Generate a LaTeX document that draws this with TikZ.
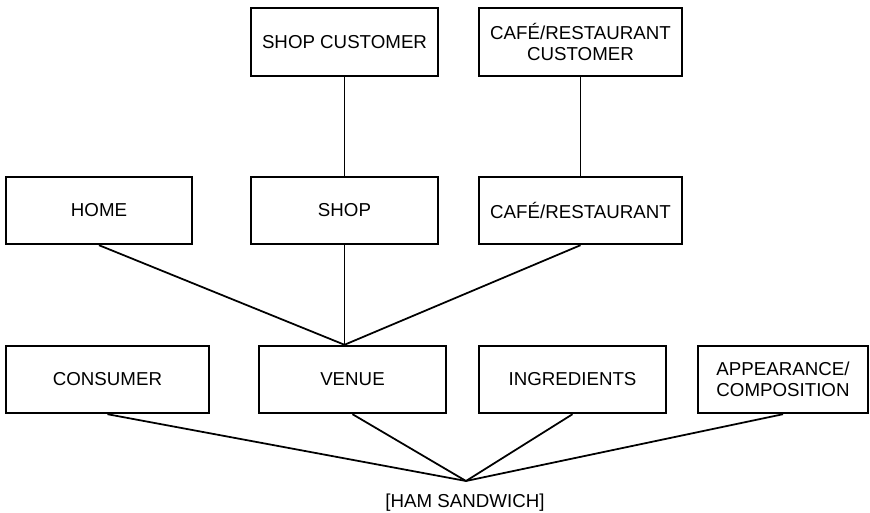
\documentclass[tikz,border=0pt]{standalone}
\usepackage{fontspec}
\setmainfont{Liberation Sans}

\begin{document}
\begin{tikzpicture}[
    box/.style={draw, line width=1.1pt, minimum height=1.35cm, align=center,
                inner sep=2pt, font=\fontsize{10.65}{12.3}\selectfont},
    link/.style={line width=1pt}
]
    \useasboundingbox (0,0) rectangle (17.4,10.26);

    % customers
    \node[box, minimum width=3.74cm] (shopcust) at (6.89,9.42) {SHOP CUSTOMER};
    \node[box, minimum width=4.06cm] (cafecust) at (11.61,9.42) {CAFÉ/RESTAURANT\\CUSTOMER};

    % venues
    \node[box, minimum width=3.72cm] (home) at (1.98,6.05) {HOME};
    \node[box, minimum width=3.74cm] (shop) at (6.89,6.05) {SHOP};
    \node[box, minimum width=4.06cm] (cafe) at (11.61,6.05) {CAFÉ/RESTAURANT};

    % attributes
    \node[box, minimum width=4.06cm] (consumer) at (2.15,2.67) {CONSUMER};
    \node[box, minimum width=3.74cm] (venue) at (7.05,2.67) {VENUE};
    \node[box, minimum width=3.74cm] (ingredients) at (11.45,2.67) {INGREDIENTS};
    \node[box, minimum width=3.40cm] (appearance) at (15.66,2.67) {APPEARANCE/\\COMPOSITION};

    \node[anchor=base, inner sep=0pt, font=\fontsize{10.65}{12.3}\selectfont] (sandwich) at (9.30,0.11) {[HAM SANDWICH]};

    \coordinate (hub) at (shop.south |- venue.north);
    \coordinate (root) at (9.32,0.64);

    \draw[link] (shopcust.south) -- (shop.north);
    \draw[link] (cafecust.south) -- (cafe.north);

    \draw[link] (home.south) -- (hub);
    \draw[link] (shop.south) -- (hub);
    \draw[link] (cafe.south) -- (hub);

    \draw[link] (consumer.south) -- (root);
    \draw[link] (venue.south) -- (root);
    \draw[link] (ingredients.south) -- (root);
    \draw[link] (appearance.south) -- (root);
\end{tikzpicture}
\end{document}
